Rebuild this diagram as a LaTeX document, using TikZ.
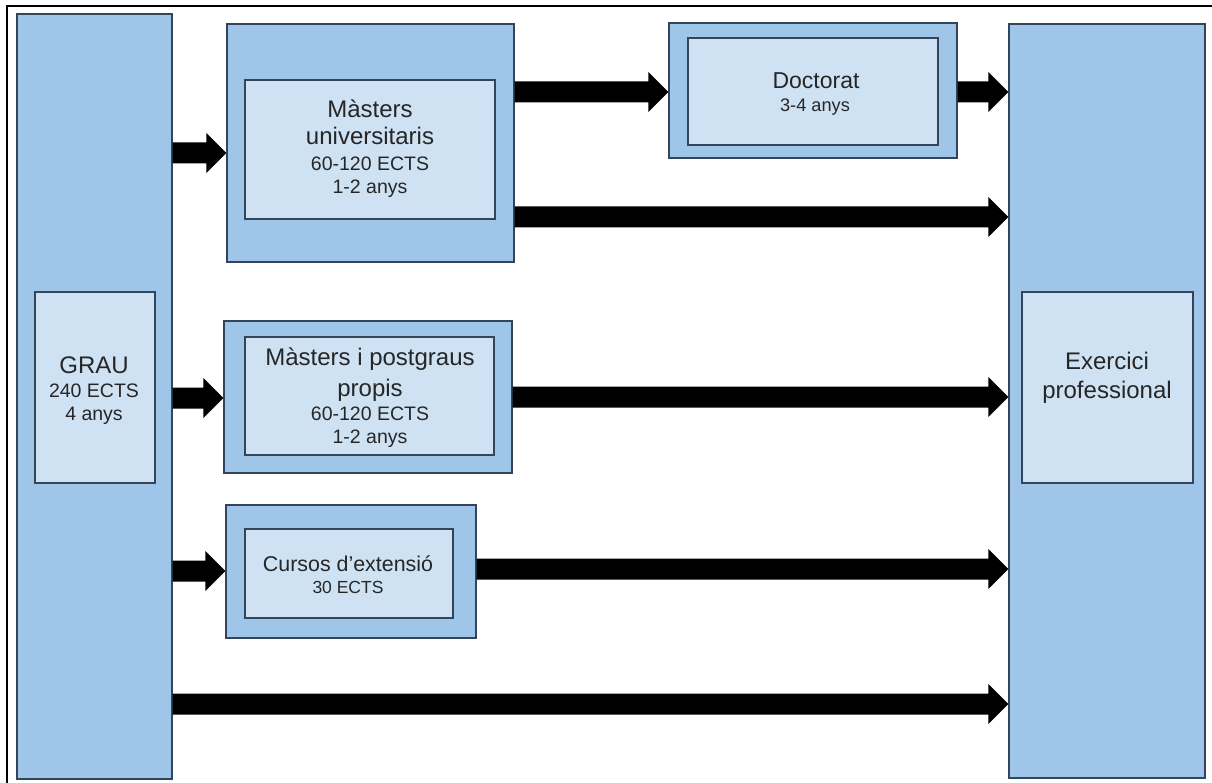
\documentclass[tikz,border=0pt]{standalone}
\usepackage{fontspec}
\setmainfont{Liberation Sans}
\usetikzlibrary{calc}
\definecolor{outerblue}{HTML}{9FC5E8}
\definecolor{innerblue}{HTML}{CFE2F3}
\definecolor{edgecol}{HTML}{34445A}
\definecolor{txtcol}{HTML}{262626}
\tikzset{
  obox/.style={draw=edgecol, line width=1.1pt, fill=outerblue, inner sep=0pt, rectangle},
  ibox/.style={draw=edgecol, line width=1.1pt, fill=innerblue, inner sep=0pt, rectangle},
  txt/.style={text=txtcol, inner sep=0pt, anchor=base},
  big/.style={font=\fontsize{24}{28}\selectfont},
  small/.style={font=\fontsize{19.5}{23}\selectfont},
}
\newcommand\fatarrow[3]{%
  \fill[black] let \p1=(#1.east), \p2=(#2.west) in
    (\x1,{(-#3+10.5)*1pt}) -- ({\x2-20pt},{(-#3+10.5)*1pt}) --
    ({\x2-20pt},{(-#3+20)*1pt}) -- (\x2,{-#3*1pt}) --
    ({\x2-20pt},{(-#3-20)*1pt}) -- ({\x2-20pt},{(-#3-10.5)*1pt}) --
    (\x1,{(-#3-10.5)*1pt}) -- cycle;
}
\begin{document}
\begin{tikzpicture}[x=1pt,y=-1pt]
\useasboundingbox (0,0) rectangle (1212,783);
\fill[white] (0,0) rectangle (1212,783);
\draw[line width=2pt, black] (7,6) rectangle (1214,786);

% GRAU
\node[obox, minimum width=155pt, minimum height=765pt] (grau) at (94.5,396.5) {};
\node[ibox, minimum width=120pt, minimum height=191pt] (grauin) at (95,387.5) {};
\node[txt, big] (g1) at (94,373) {GRAU};
\node[txt, small] (g2) at (94,397) {240 ECTS};
\node[txt, small] (g3) at (94,420) {4 anys};

% Masters universitaris
\node[obox, minimum width=287pt, minimum height=238pt] (mu) at (370.5,143) {};
\node[ibox, minimum width=250pt, minimum height=139pt] (muin) at (370,149.5) {};
\node[txt, big] (mu1) at (370,118) {Màsters};
\node[txt, big] (mu2) at (370,145) {universitaris};
\node[txt, small] (mu3) at (370,171) {60-120 ECTS};
\node[txt, small] (mu4) at (370,194) {1-2 anys};

% Doctorat
\node[obox, minimum width=288pt, minimum height=135pt] (doc) at (813,90.5) {};
\node[ibox, minimum width=250pt, minimum height=107pt] (docin) at (813,91.5) {};
\node[txt, font=\fontsize{23}{27}\selectfont] (d1) at (816,89) {Doctorat};
\node[txt, font=\fontsize{18.2}{22}\selectfont] (d2) at (815,112) {3-4 anys};

% Masters i postgraus propis
\node[obox, minimum width=288pt, minimum height=152pt] (mp) at (368,397) {};
\node[ibox, minimum width=249pt, minimum height=118pt] (mpin) at (369.5,396) {};
\node[txt, big] (mp1) at (370,366) {Màsters i postgraus};
\node[txt, big] (mp2) at (370,396) {propis};
\node[txt, small] (mp3) at (370,420) {60-120 ECTS};
\node[txt, small] (mp4) at (370,443) {1-2 anys};

% Cursos
\node[obox, minimum width=250pt, minimum height=133pt] (cur) at (351,571.5) {};
\node[ibox, minimum width=208pt, minimum height=89pt] (curin) at (349,573.5) {};
\node[txt, font=\fontsize{21.4}{25}\selectfont] (c1) at (348,571) {Cursos d’extensió};
\node[txt, font=\fontsize{17.5}{21}\selectfont] (c2) at (348,593) {30 ECTS};

% Exercici professional
\node[obox, minimum width=196pt, minimum height=754pt] (ex) at (1107,401) {};
\node[ibox, minimum width=171pt, minimum height=191pt] (exin) at (1107.5,387.5) {};
\node[txt, big] (e1) at (1107,370) {Exercici};
\node[txt, big] (e2) at (1107,398) {professional};

% Arrows
\fatarrow{grau}{mu}{153}
\fatarrow{mu}{doc}{92}
\fatarrow{doc}{ex}{92}
\fatarrow{mu}{ex}{217}
\fatarrow{grau}{mp}{398}
\fatarrow{mp}{ex}{397}
\fatarrow{grau}{cur}{571}
\fatarrow{cur}{ex}{569}
\fatarrow{grau}{ex}{704}
\end{tikzpicture}
\end{document}
